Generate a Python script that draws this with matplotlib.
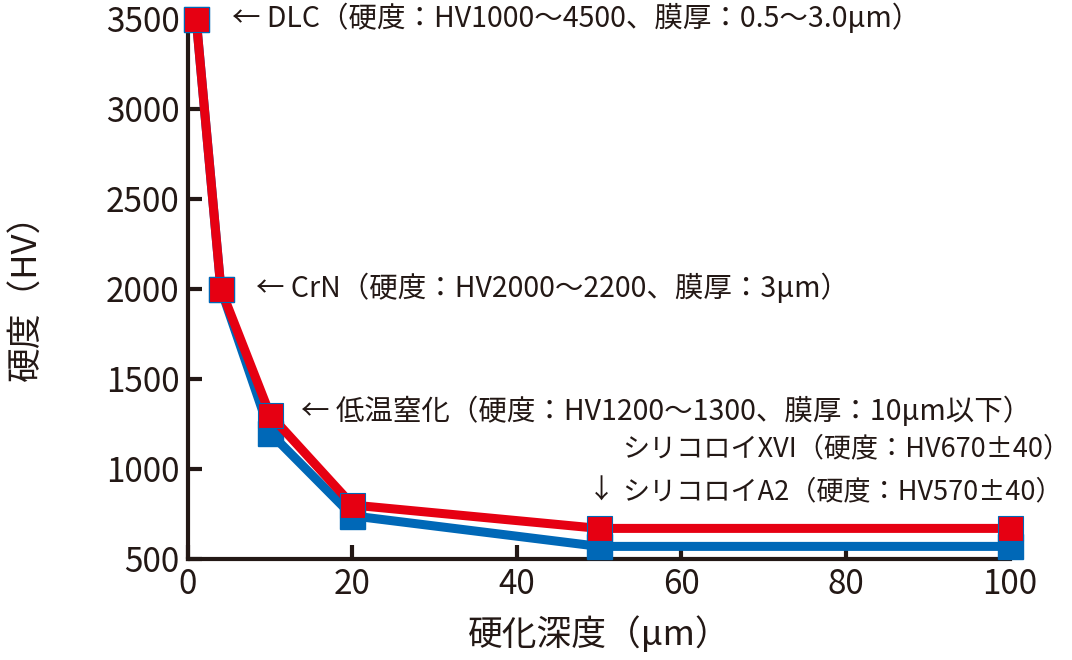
import matplotlib
matplotlib.use("Agg")
import matplotlib.pyplot as plt

plt.rcParams['font.family'] = ['Noto Sans CJK JP', 'DejaVu Sans']

# 硬化深度 (um) と 硬度 (HV)
depth = [1, 4, 10, 20, 50, 100]
hv_a2 = [3500, 2000, 1200, 740, 570, 570]     # シリコロイA2
hv_xvi = [3500, 2000, 1300, 800, 670, 670]    # シリコロイXVI

x_ticks = [0, 20, 40, 60, 80, 100]
y_ticks = [500, 1000, 1500, 2000, 2500, 3000, 3500]

notes = [
    (5.3, 3500, "← DLC（硬度：HV1000～4500、膜厚：0.5～3.0μm）"),
    (8.3, 2000, "← CrN（硬度：HV2000～2200、膜厚：3μm）"),
    (13.8, 1320, "← 低温窒化（硬度：HV1200～1300、膜厚：10μm以下）"),
]

ink = '#231815'
red = '#E60012'
blue = '#0068B7'

fig = plt.figure(figsize=(10.72, 6.6), dpi=100)
ax = fig.add_axes([188 / 1072, 1 - 559 / 660, (1010 - 188) / 1072, (559 - 19) / 660])

ax.plot(depth, hv_a2, color=blue, lw=6.5, marker='s', ms=18,
        mfc=blue, mec=blue, clip_on=False, zorder=3)
ax.plot(depth, hv_xvi, color=red, lw=6.5, marker='s', ms=18,
        mfc=red, mec=blue, mew=0.8, clip_on=False, zorder=4)

ax.set_xlim(0, 100)
ax.set_ylim(500, 3500)
ax.set_xticks(x_ticks)
ax.set_yticks(y_ticks)

for s in ['top', 'right']:
    ax.spines[s].set_visible(False)
for s in ['left', 'bottom']:
    ax.spines[s].set_linewidth(3)
    ax.spines[s].set_color(ink)

ax.tick_params(direction='in', length=10, width=3, color=ink,
               labelsize=24, labelcolor=ink, pad=6)
ax.tick_params(axis='x', pad=6)

ax.set_xlabel("硬化深度（μm）", fontsize=25, color=ink, labelpad=10)
ax.set_ylabel("硬度（HV）", fontsize=25, color=ink, labelpad=44)

for x, y, t in notes:
    ax.text(x, y, t, fontsize=20.5, color=ink, va='center', ha='left')

ax.text(52.8, 1110, "シリコロイXVI（硬度：HV670±40）", fontsize=19.5,
        color=ink, va='center', ha='left')
ax.text(48.6, 875, "↓", fontsize=19.5, color=ink, va='center', ha='left')
ax.text(52.8, 875, "シリコロイA2（硬度：HV570±40）", fontsize=19.5,
        color=ink, va='center', ha='left')

fig.savefig("out.png", dpi=100)
